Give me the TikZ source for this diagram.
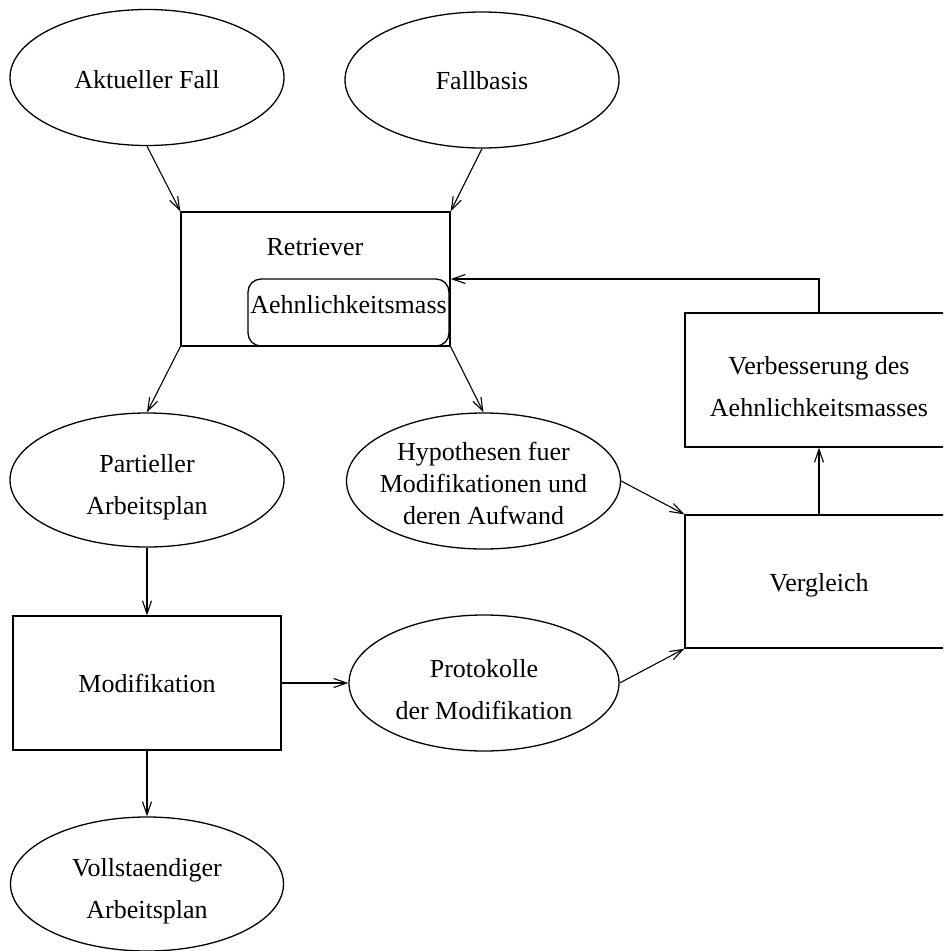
\documentclass[tikz,border=0pt]{standalone}
\usepackage{fontspec}
\setmainfont{Liberation Serif}
\usetikzlibrary{shapes.geometric,arrows.meta}
\begin{document}
\begin{tikzpicture}[x=1pt,y=-1pt,
  every node/.style={font=\fontsize{26}{42}\selectfont, align=center, inner sep=0pt},
  oval/.style={draw, ellipse, line width=1.3pt, minimum width=274pt, minimum height=136pt},
  box/.style={draw, rectangle, line width=1.3pt, minimum width=268pt, minimum height=134pt},
  tight/.style={font=\fontsize{26}{32}\selectfont},
  arr/.style={line width=1.1pt, -{Straight Barb[length=13pt,width=9pt,line width=1.1pt]}}
]
\clip (0,0) rectangle (943,951);

% sources
\node[oval] (aktuell) at (147,77.5) {};
\node (aktuelltxt) at (147,80) {Aktueller Fall};
\node[oval] (fallbasis) at (482,80) {};
\node (fallbasistxt) at (482,81) {Fallbasis};

% retriever with its similarity measure
\node[box, minimum width=269pt] (retriever) at (315.5,279) {};
\node (retrievertxt) at (315,247) {Retriever};
\node[draw, line width=1.3pt, rounded corners=13pt, minimum width=201pt, minimum height=67pt] (aehnlich) at (348.5,312.5) {};
\node (aehnlichtxt) at (348.5,305) {Aehnlichkeitsmass};

% retriever results
\node[oval, minimum height=134pt] (partiell) at (147,480) {};
\node (partielltxt) at (147,487) {Partieller\\Arbeitsplan};
\node[oval] (hypothesen) at (483.5,481) {};
\node[tight] (hypothesentxt) at (483.5,483) {Hypothesen fuer\\Modifikationen und\\deren Aufwand};

% modification
\node[box] (modifikation) at (147,683) {};
\node (modifikationtxt) at (147,683) {Modifikation};
\node[oval, minimum width=270pt] (protokolle) at (484,683) {};
\node (protokolletxt) at (484,690) {Protokolle\\der Modifikation};
\node[oval, minimum width=273pt, minimum height=134pt] (vollstaendig) at (147,884) {};
\node (vollstaendigtxt) at (147,891) {Vollstaendiger\\Arbeitsplan};

% comparison and learning
\node[box, minimum height=133pt] (vergleich) at (819,581.5) {};
\node (vergleichtxt) at (819,585) {Vergleich};
\node[box] (verbesserung) at (819,380) {};
\node (verbesserungtxt) at (819,387) {Verbesserung des\\Aehnlichkeitsmasses};

% connectors
\draw[arr] (aktuell.south) -- (retriever.north west);
\draw[arr] (fallbasis.south) -- (retriever.north east);
\draw[arr] (retriever.south west) -- (partiell.north);
\draw[arr] (retriever.south east) -- (hypothesen.north);
\draw[arr] (partiell.south) -- (modifikation.north);
\draw[arr] (modifikation.south) -- (vollstaendig.north);
\draw[arr] (modifikation.east) -- (protokolle.west);
\draw[arr] (hypothesen.east) -- (vergleich.north west);
\draw[arr] (protokolle.east) -- (vergleich.south west);
\draw[arr] (vergleich.north) -- (verbesserung.south);
\draw[arr] (verbesserung.north) |- (retriever.east);
\end{tikzpicture}
\end{document}
